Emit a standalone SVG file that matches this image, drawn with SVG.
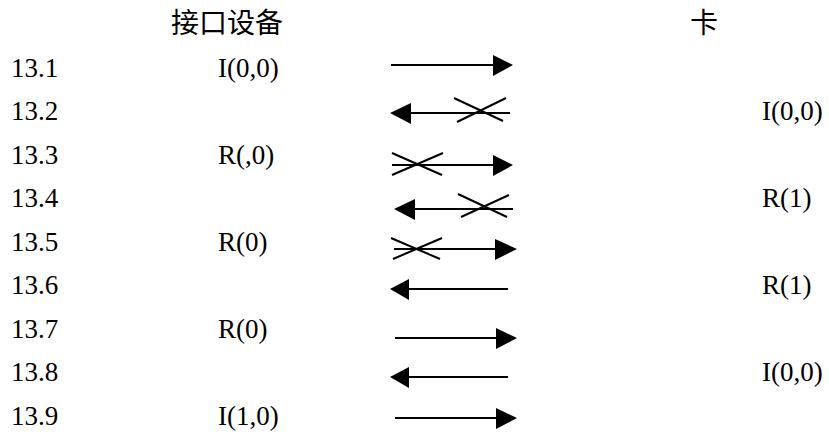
<svg xmlns="http://www.w3.org/2000/svg" width="829" height="434" viewBox="0 0 829 434">
<style>
.t{font-family:"Liberation Serif","Times New Roman",serif;font-size:27px;fill:#000}
.h{font-family:"Noto Sans CJK SC","Noto Sans",sans-serif;font-size:28px;fill:#000}
.ln{stroke:#000;stroke-width:2;fill:none}
.x{stroke:#000;stroke-width:2;fill:none}
.hd{fill:#000}
</style>
<rect width="829" height="434" fill="#fff"/>
<g id="headers">
<text class="h" x="171" y="33">接口设备</text>
<text class="h" x="704" y="33" text-anchor="middle">卡</text>
</g>
<g id="steps">
<text class="t" x="11" y="77">13.1</text>
<text class="t" x="11" y="120">13.2</text>
<text class="t" x="11" y="164">13.3</text>
<text class="t" x="11" y="207">13.4</text>
<text class="t" x="11" y="251">13.5</text>
<text class="t" x="11" y="294">13.6</text>
<text class="t" x="11" y="338">13.7</text>
<text class="t" x="11" y="381">13.8</text>
<text class="t" x="11" y="425">13.9</text>
</g>
<g id="device-labels">
<text class="t" x="218" y="77">I(0,0)</text>
<text class="t" x="218" y="164">R(,0)</text>
<text class="t" x="218" y="251">R(0)</text>
<text class="t" x="218" y="338">R(0)</text>
<text class="t" x="218" y="425">I(1,0)</text>
</g>
<g id="card-labels">
<text class="t" x="762" y="120">I(0,0)</text>
<text class="t" x="762" y="207">R(1)</text>
<text class="t" x="762" y="294">R(1)</text>
<text class="t" x="762" y="381">I(0,0)</text>
</g>
<g id="connectors">
<line class="ln" x1="391" y1="65" x2="494" y2="65"/>
<polygon class="hd" points="493,55 513,65 493,76"/>
<line class="ln" x1="410" y1="113" x2="510" y2="113"/>
<polygon class="hd" points="411,103 390,113 411,124"/>
<line class="x" x1="454" y1="98" x2="503" y2="121"/>
<line class="x" x1="457" y1="122" x2="506" y2="98"/>
<line class="ln" x1="392" y1="165" x2="494" y2="165"/>
<polygon class="hd" points="493,155 513,165 493,176"/>
<line class="x" x1="392" y1="153" x2="442" y2="175"/>
<line class="x" x1="392" y1="175" x2="443" y2="153"/>
<line class="ln" x1="414" y1="209" x2="513" y2="209"/>
<polygon class="hd" points="415,199 394,209 415,220"/>
<line class="x" x1="458" y1="194" x2="507" y2="217"/>
<line class="x" x1="461" y1="217" x2="509" y2="195"/>
<line class="ln" x1="394" y1="249" x2="496" y2="249"/>
<polygon class="hd" points="495,239 517,249 495,260"/>
<line class="x" x1="391" y1="238" x2="440" y2="259"/>
<line class="x" x1="393" y1="259" x2="442" y2="238"/>
<line class="ln" x1="408" y1="289" x2="508" y2="289"/>
<polygon class="hd" points="409,279 390,289 409,300"/>
<line class="ln" x1="395" y1="338" x2="497" y2="338"/>
<polygon class="hd" points="496,328 517,338 496,349"/>
<line class="ln" x1="408" y1="377" x2="508" y2="377"/>
<polygon class="hd" points="409,367 390,377 409,388"/>
<line class="ln" x1="395" y1="418" x2="497" y2="418"/>
<polygon class="hd" points="496,408 517,418 496,429"/>
</g>
</svg>
